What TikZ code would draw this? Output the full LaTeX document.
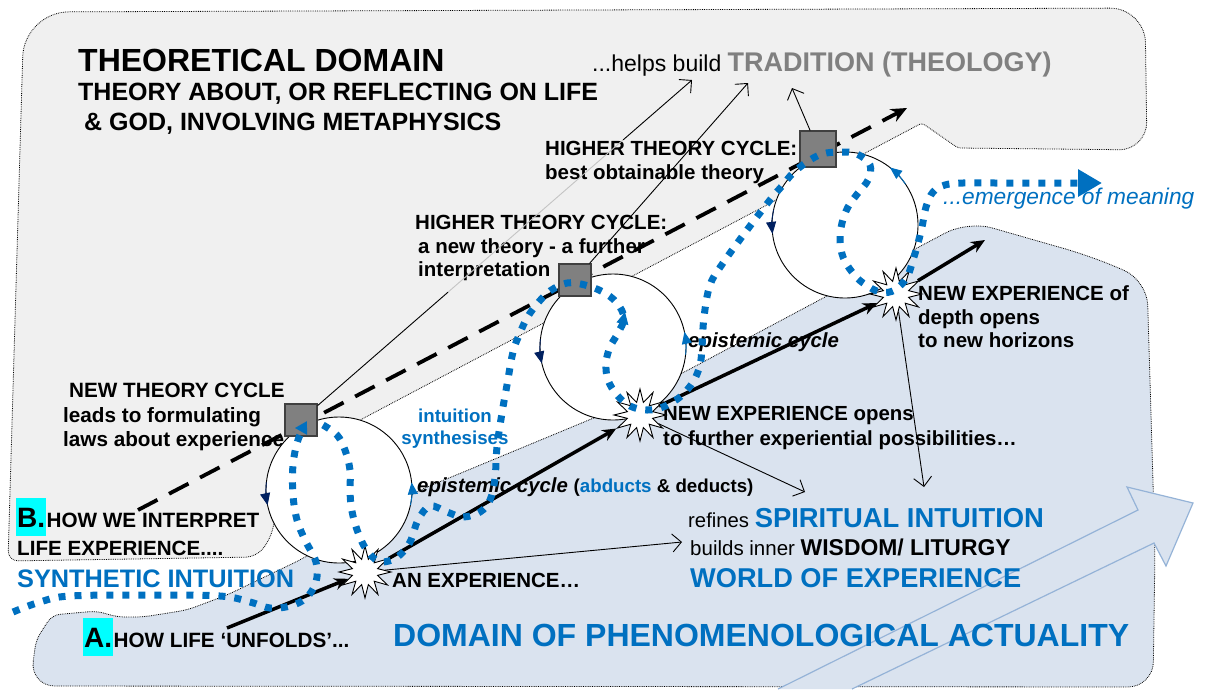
\documentclass[tikz,border=0pt]{standalone}
\usepackage{fontspec}
\setmainfont{Liberation Sans}
\usetikzlibrary{arrows.meta,shapes.geometric,calc}

\definecolor{bluetxt}{HTML}{0070C0}
\definecolor{navyc}{HTML}{002060}
\definecolor{grayfill}{HTML}{F0F0F0}
\definecolor{bluefill}{HTML}{DAE3EF}
\definecolor{arrowline}{HTML}{95B3D7}
\definecolor{tradgray}{HTML}{808080}
\definecolor{fadegray}{HTML}{C4C4C4}
\definecolor{hilite}{HTML}{00FFFF}

\newcommand{\fsz}[1]{\fontsize{#1}{#1}\selectfont}

\tikzset{
  lbl/.style={anchor=base west, inner sep=0pt, font=\bfseries},
  mid/.style={anchor=base, inner sep=0pt},
  letterbox/.style={anchor=base west, fill=hilite, inner xsep=1pt, inner ysep=0pt,
    text height=29.5pt, text depth=8.5pt, font=\bfseries\fsz{28}},
  grayreg/.style={fill=grayfill, draw=black, densely dotted, line width=0.8pt},
  bluereg/.style={fill=bluefill, draw=black, densely dotted, line width=0.8pt},
  cyc/.style={draw=black, fill=white, line width=0.9pt},
  sqbox/.style={draw=black!75, fill=tradgray, minimum size=32pt, inner sep=0pt, line width=1.2pt},
  burst/.style={star, star points=12, star point ratio=2, draw=black, fill=white,
    minimum size=52pt, inner sep=0pt, line width=0.9pt},
  lifeline/.style={line width=3.5pt, -{Stealth[length=14pt,width=12pt]}},
  theoryline/.style={line width=3.8pt, dash pattern=on 22pt off 13pt, -{Stealth[length=16pt,width=14pt]}},
  pointer/.style={line width=0.9pt, -{Straight Barb[length=9pt,width=18pt]}},
  bluedots/.style={draw=bluetxt, line width=7pt, dash pattern=on 7pt off 9pt},
  navytip/.style={draw=navyc, line width=0.9pt, -{Triangle[length=12pt,width=10pt]}},
  bluetip/.style={draw=bluetxt, line width=0.9pt, -{Triangle[length=12pt,width=10pt]}},
}

\begin{document}
\begin{tikzpicture}[x=1pt, y=1pt]
  \useasboundingbox (0,0) rectangle (1206,-689);

  % the two domains
  \path[grayreg] (8,-561) [rounded corners=45pt] -- (24,-12) [rounded corners=35pt] -- (1145,-8)
    [rounded corners=28pt] -- (1147,-150) [rounded corners=3pt] -- (958,-148) -- (922,-123)
    -- (362,-419) [rounded corners=10pt] -- (284,-482) -- (270,-540) -- (256,-557) -- cycle;
  \path[bluereg] (30,-686) [rounded corners=8pt] -- (36,-640) -- (52,-615) -- (97,-611) -- (117,-617)
    -- (143,-617) -- (187,-610) -- (227,-595) -- (300,-560) -- (420,-490) -- (613,-410) -- (917,-248)
    [rounded corners=25pt] -- (968,-221) -- (1090,-256) -- (1147,-280) -- (1155,-550) -- (1153,-687) -- cycle;

  % big arrow of experience
  \fill[bluefill] (778,-689) -- (1138,-510) -- (1127,-487) -- (1193,-503) -- (1166,-566) -- (1154,-543) -- (852,-689) -- cycle;
  \draw[arrowline, line width=1.2pt] (778,-689) -- (1138,-510) -- (1127,-487) -- (1193,-503) -- (1166,-566) -- (1154,-543) -- (852,-689);

  % texts
  \node[lbl, font=\bfseries\fsz{32}] (ttl) at (78,-71) {THEORETICAL DOMAIN};
  \node[lbl, font=\bfseries\fsz{25}] (ttl2) at (78,-100) {THEORY ABOUT, OR REFLECTING ON LIFE};
  \node[lbl, font=\bfseries\fsz{25}] (ttl3) at (84,-130) {\& GOD, INVOLVING METAPHYSICS};
  \node[lbl, font=\fsz{23}] (trad) at (592,-71) {...helps build {\bfseries\fsz{27}\color{tradgray}TRADITION (THEOLOGY)}};

  \node[lbl, font=\bfseries\fsz{20.5}] (htc3a) at (545,-155) {HIGHER THEORY CYCLE:};
  \node[lbl, font=\bfseries\fsz{20.5}] (htc3b) at (545,-179) {best obtainable theory};
  \node[lbl, font=\bfseries\fsz{20.5}] (htc2a) at (415,-229) {HIGHER THEORY CYCLE:};
  \node[lbl, font=\bfseries\fsz{20.5}] (htc2b) at (418,-253) {a new theory - a further};
  \node[lbl, font=\bfseries\fsz{20.5}] (htc2c) at (418,-276) {interpretation};
  \node[lbl, font=\bfseries\fsz{20.7}] (ntc1) at (69,-397) {NEW THEORY CYCLE};
  \node[lbl, font=\bfseries\fsz{20.7}] (ntc2) at (63,-422) {leads to formulating};
  \node[lbl, font=\bfseries\fsz{20.7}] (ntc3) at (63,-446) {laws about experience};

  \node[letterbox] (bmark) at (16,-527) {B.};
  \node[lbl, font=\bfseries\fsz{20.7}] (bline1) at (bmark.base east) {HOW WE INTERPRET};
  \node[lbl, font=\bfseries\fsz{20.6}] (bline2) at (17,-555) {LIFE EXPERIENCE....};
  \node[lbl, font=\bfseries\fsz{25.3}, text=bluetxt] (synint) at (17,-587) {SYNTHETIC INTUITION};
  \node[letterbox] (amark) at (83,-647) {A.};
  \node[lbl, font=\bfseries\fsz{20.7}] (aline) at (amark.base east) {HOW LIFE ‘UNFOLDS’...};

  \node[mid, font=\bfseries\fsz{18.7}, text=bluetxt] (intu1) at (455,-422) {intuition};
  \node[mid, font=\bfseries\fsz{18.7}, text=bluetxt] (intu2) at (455,-444) {synthesises};
  \node[lbl, font=\bfseries\itshape\fsz{20.4}] (epi1) at (417,-492)
    {epistemic cycle {\upshape\fsz{18.7}(\textcolor{bluetxt}{abducts} \& deducts)}};
  \node[lbl, font=\bfseries\itshape\fsz{20.4}] (epi2) at (688,-347) {epistemic cycle};
  \node[lbl, font=\bfseries\fsz{20.5}] (anexp) at (392,-587) {AN EXPERIENCE…};
  \node[lbl, font=\bfseries\fsz{20.4}] (nexp1) at (663,-420) {NEW EXPERIENCE opens};
  \node[lbl, font=\bfseries\fsz{20.4}] (nexp2) at (663,-445) {to further experiential possibilities…};
  \node[lbl, font=\bfseries\fsz{20.5}] (dexp1) at (918,-300) {NEW EXPERIENCE of};
  \node[lbl, font=\bfseries\fsz{20.5}] (dexp2) at (918,-324) {depth opens};
  \node[lbl, font=\bfseries\fsz{20.5}] (dexp3) at (918,-347) {to new horizons};
  \node[lbl, font=\fsz{20.3}] (refi) at (688,-527) {refines {\bfseries\fsz{27.4}\color{bluetxt}SPIRITUAL INTUITION}};
  \node[lbl, font=\fsz{20.5}] (build) at (690,-555) {builds inner {\bfseries\fsz{22.9}WISDOM/ LITURGY}};
  \node[lbl, font=\bfseries\fsz{27.2}, text=bluetxt] (world) at (690,-587) {WORLD OF EXPERIENCE};
  \node[lbl, font=\bfseries\fsz{32}, text=bluetxt] (phen) at (393,-646) {DOMAIN OF PHENOMENOLOGICAL ACTUALITY};
  \node[lbl, font=\itshape\fsz{22.7}, text=bluetxt] (emer) at (943,-204) {...emergence of meaning};

  % free ends
  \coordinate (a0) at (227,-628);
  \coordinate (a1) at (985,-240);
  \coordinate (d0) at (138,-510);
  \coordinate (d1) at (907,-108);
  \coordinate (t1) at (692,-80);
  \coordinate (t2) at (748,-83);
  \coordinate (t3) at (792,-88);
  \coordinate (w1) at (682,-542);
  \coordinate (w2) at (805,-492);
  \coordinate (w3) at (924,-487);
  \coordinate (c1) at (339,-490);
  \coordinate (c2) at (613,-347);
  \coordinate (c3) at (845,-225);

  % line of theory
  \draw[theoryline] (d0) -- (d1);

  % epistemic cycles
  \draw[cyc] (c1) circle[radius=73];
  \draw[cyc] (c2) circle[radius=73];
  \draw[cyc] (c3) circle[radius=73];
  \draw[navytip] (c1) ++(174:73) arc[start angle=174, end angle=192, radius=73];
  \draw[bluetip] (c1) ++(-12:73) arc[start angle=-12, end angle=6, radius=73];
  \draw[navytip] (c2) ++(174:73) arc[start angle=174, end angle=193, radius=73];
  \draw[bluetip] (c2) ++(-6:73) arc[start angle=-6, end angle=12, radius=73];
  \draw[navytip] (c3) ++(168:73) arc[start angle=168, end angle=187, radius=73];
  \draw[bluetip] (c3) ++(34:73) arc[start angle=34, end angle=52, radius=73];

  % theories and experiences
  \node[sqbox] (sq1) at (301,-420) {};
  \node[sqbox] (sq2) at (575,-280) {};
  \node[sqbox, minimum size=36pt] (sq3) at (818,-149) {};
  \node[burst] (st1) at (365,-572) {};
  \node[burst] (st2) at (640,-415) {};
  \node[burst] (st3) at (896,-294) {};

  % line of life
  \draw[lifeline] (a0) -- (st1);
  \draw[lifeline] (st1) -- (st2);
  \draw[lifeline] (st2) -- (st3);
  \draw[lifeline] (st3) -- (a1);

  % pointers
  \draw[line width=0.9pt] (sq1) -- ($(sq1)!0.376!(t1)$);
  \draw[line width=0.9pt, fadegray] ($(sq1)!0.376!(t1)$) -- ($(sq1)!0.824!(t1)$);
  \draw[pointer] ($(sq1)!0.824!(t1)$) -- (t1);
  \draw[pointer] (sq2) -- (t2);
  \draw[pointer] (sq3) -- (t3);
  \draw[pointer] (st1) -- (w1);
  \draw[pointer] (st2) -- (w2);
  \draw[pointer] (st3) -- (w3);

  % intuition paths
  \draw[bluedots, -{Triangle[length=12pt,width=13pt]}] plot[smooth, tension=0.6] coordinates {
    (13,-612) (40,-602) (70,-596) (150,-595) (220,-596) (250,-602) (270,-608) (290,-606)
    (306,-598) (316,-582) (316,-562) (305,-540) (297,-520) (293,-495) (293,-465) (298,-440) (307,-421)};
  \draw[bluedots, -{Triangle[length=24pt,width=26pt]}] plot[smooth, tension=0.6] coordinates {
    (323,-425) (337,-435) (345,-450) (350,-470) (350,-490) (351,-505) (354,-520) (359,-535)
    (366,-549) (378,-561) (392,-560) (403,-552) (411,-540) (418,-520) (430,-506) (447,-512)
    (463,-517) (480,-512) (490,-500) (495,-478) (497,-447) (502,-413) (507,-385) (513,-352)
    (520,-333) (527,-318) (537,-304) (550,-291) (567,-283) (585,-285) (603,-292) (617,-303)
    (624,-318) (618,-333) (610,-347) (606,-363) (608,-380) (617,-395) (630,-406) (647,-410)
    (663,-407) (680,-397) (693,-382) (700,-365) (702,-347) (704,-317) (710,-285) (723,-263)
    (747,-230) (770,-200) (782,-186) (793,-173) (807,-162) (822,-154) (840,-152) (857,-154)
    (870,-165) (868,-180) (858,-193) (848,-207) (842,-223) (840,-240) (843,-257) (852,-272)
    (863,-283) (880,-292) (895,-290) (907,-277) (913,-260) (918,-243) (922,-227) (926,-207)
    (933,-192) (945,-185) (963,-183) (1000,-183) (1102,-183)};
  \draw[bluetxt, line width=1pt, -{Triangle[length=12pt,width=12pt]}] (621,-330) -- (625,-312);
\end{tikzpicture}
\end{document}
